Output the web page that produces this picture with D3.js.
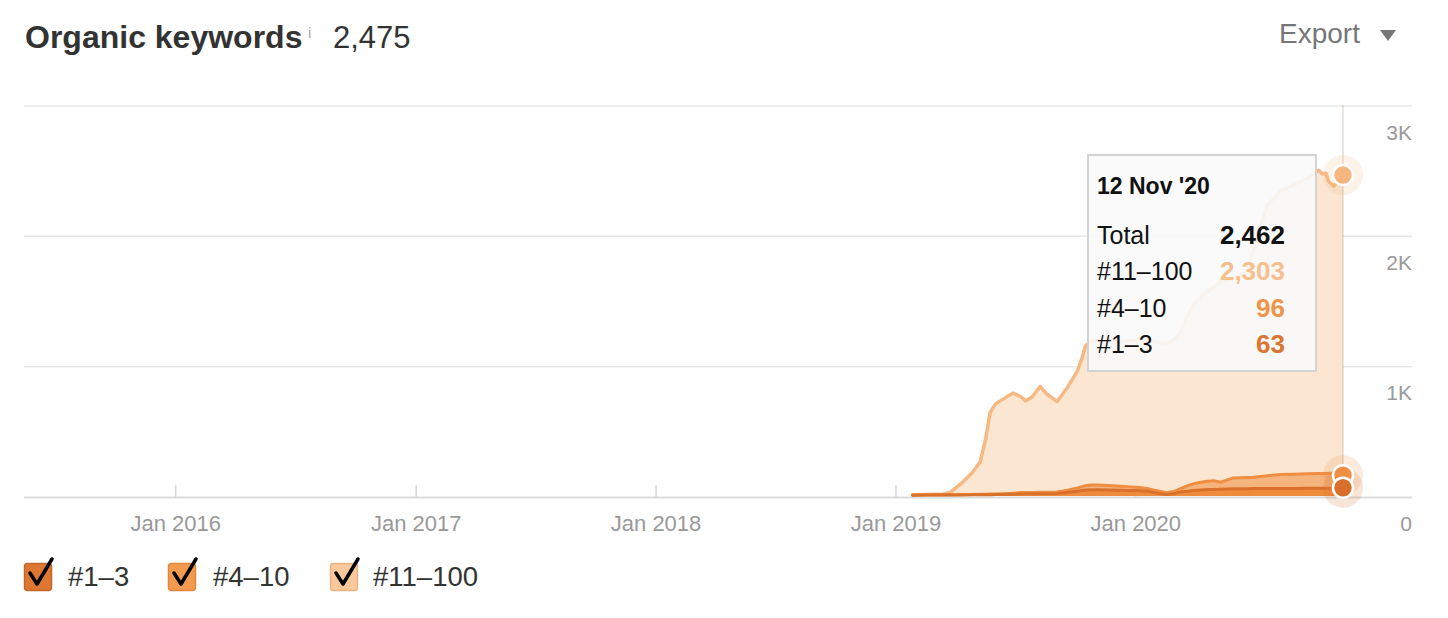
<!DOCTYPE html>
<html>
<head>
<meta charset="utf-8">
<script src="https://cdn.jsdelivr.net/npm/d3@7"></script>
<style>
  html, body { margin: 0; padding: 0; background: #fff; }
  svg { display: block; font-family: "Liberation Sans", Arial, Helvetica, sans-serif; }
</style>
</head>
<body>
<svg id="chart" width="1448" height="618"></svg>
<script>
// ---- Data ----
const dates = [
  "2019-01-27","2019-02-20","2019-03-15","2019-03-26","2019-04-12","2019-04-28","2019-05-10","2019-05-18",
  "2019-05-25","2019-06-02","2019-06-14","2019-06-29","2019-07-10","2019-07-18","2019-07-28","2019-08-09",
  "2019-08-20","2019-09-04","2019-09-20","2019-10-05","2019-10-12","2019-10-17","2019-10-25","2019-11-04",
  "2019-11-20","2019-12-10","2019-12-25","2020-01-04","2020-01-19","2020-01-28","2020-02-05","2020-02-18",
  "2020-03-01","2020-03-09","2020-03-20","2020-03-29","2020-04-10","2020-04-20","2020-04-29","2020-05-10",
  "2020-05-29","2020-06-20","2020-06-29","2020-07-10","2020-07-20","2020-08-09","2020-08-29","2020-09-19",
  "2020-10-06","2020-10-12","2020-10-17","2020-10-21","2020-10-29","2020-11-05","2020-11-12"
];
const r1_3 = [6,7,7,8,8,9,9,10,10,11,12,14,16,17,17,18,18,20,28,37,43,46,48,48,46,44,43,42,36,28,20,12,20,30,37,42,46,49,50,52,55,56,57,57,57,58,58,59,59,59,59,59,60,61,63];
const r4_10 = [2,2,3,2,3,3,4,4,5,5,6,8,10,10,10,10,10,10,17,25,29,32,37,36,34,31,27,25,22,19,18,14,16,25,41,51,60,65,68,54,84,86,87,93,98,107,109,111,113,114,114,115,114,111,96];
const r11_100 = [2,3,6,20,89,168,249,416,625,689,727,768,739,703,733,812,752,695,790,898,988,1072,1100,1106,1120,1110,1125,1127,1134,1141,1142,1143,1169,1191,1302,1369,1424,1455,1482,1540,1530,1581,1756,1927,2076,2173,2218,2268,2328,2297,2304,2241,2203,2248,2303];

const seriesNames = ["#1–3", "#4–10", "#11–100"];
const xTickDates = ["2016-01-01","2017-01-01","2018-01-01","2019-01-01","2020-01-01"];
const yTickValues = [0, 1000, 2000, 3000];
const yTickLabels = ["0", "1K", "2K", "3K"];
const headerTotal = "2,475";
const tooltipDate = "12 Nov '20";

// ---- Setup ----
const parse = d3.timeParse("%Y-%m-%d");
const rows = dates.map((d, i) => ({ date: parse(d), r1: r1_3[i], r2: r4_10[i], r3: r11_100[i] }));
const keys = ["r1", "r2", "r3"];
const stacked = d3.stack().keys(keys)(rows);

const svg = d3.select("#chart");
const plotLeft = 24, plotRight = 1412, plotTop = 106, plotBottom = 497;

const x = d3.scaleTime()
  .domain([parse("2015-05-16"), parse("2021-02-25")])
  .range([plotLeft, plotRight]);
const y = d3.scaleLinear().domain([0, 3000]).range([plotBottom, plotTop]);

const fillCol = { r1: "#ee8b3d", r2: "#f5b47d", r3: "#fbe6d2" };
const lineCol = { r1: "#d9712b", r2: "#ef8e41", r3: "#f6b984" };
const dotCol  = { r1: "#d8702b", r2: "#ef8f44", r3: "#f5b57e" };
const FONT = "Liberation Sans, Arial, Helvetica, sans-serif";

// ---- Header ----
svg.append("text").attr("x", 25).attr("y", 48).attr("font-size", 32).attr("font-weight", "bold")
  .attr("fill", "#333").text("Organic keywords");
svg.append("text").attr("x", 308).attr("y", 38).attr("font-size", 15).attr("fill", "#aaa").text("i");
svg.append("text").attr("x", 333).attr("y", 48).attr("font-size", 31).attr("fill", "#333").text(headerTotal);
svg.append("text").attr("x", 1279).attr("y", 43).attr("font-size", 28).attr("fill", "#777").text("Export");
svg.append("path").attr("d", "M1380,30 L1396,30 L1388,41 Z").attr("fill", "#777");

// ---- Grid ----
svg.append("g").selectAll("line").data(yTickValues.filter(v => v > 0)).join("line")
  .attr("x1", plotLeft).attr("x2", plotRight)
  .attr("y1", d => y(d)).attr("y2", d => y(d))
  .attr("stroke", "#e8e8e8").attr("stroke-width", 1.5);

// x axis
const xAxis = d3.axisBottom(x)
  .tickValues(xTickDates.map(parse))
  .tickFormat(d3.timeFormat("Jan %Y"))
  .tickSize(-12).tickPadding(18);
const gx = svg.append("g").attr("transform", `translate(0,${plotBottom})`).call(xAxis);
gx.select(".domain").remove();
gx.selectAll(".tick line").attr("stroke", "#d6d6d6").attr("stroke-width", 1.5);
gx.selectAll(".tick text").attr("fill", "#999").attr("font-size", 22).attr("font-family", FONT);

// baseline
svg.append("line").attr("x1", plotLeft).attr("x2", plotRight)
  .attr("y1", y(0) + 0.5).attr("y2", y(0) + 0.5)
  .attr("stroke", "#dcdcdc").attr("stroke-width", 2);

// right axis labels
const yAxis = d3.axisRight(y).tickValues(yTickValues)
  .tickFormat((d, i) => yTickLabels[i]).tickSize(0);
const gy = svg.append("g").attr("transform", `translate(${plotRight},0)`).call(yAxis);
gy.select(".domain").remove();
gy.selectAll(".tick text").attr("x", 0).attr("dy", 33).attr("text-anchor", "end")
  .attr("fill", "#999").attr("font-size", 21).attr("font-family", FONT);

// ---- Areas (draw top series first) ----
const area = d3.area().x(d => x(d.data.date)).y0(d => y(d[0]) - 1).y1(d => y(d[1]) - 1);
const line = d3.line().x(d => x(d.data.date)).y(d => y(d[1]) - 1);
const drawOrder = [2, 1, 0];
drawOrder.forEach(i => {
  const s = stacked[i];
  svg.append("path").datum(s).attr("d", area).attr("fill", fillCol[s.key]);
});
drawOrder.forEach(i => {
  const s = stacked[i];
  svg.append("path").datum(s).attr("d", line).attr("fill", "none")
    .attr("stroke", lineCol[s.key]).attr("stroke-width", i === 2 ? 3.5 : 3)
    .attr("stroke-linejoin", "round").attr("stroke-linecap", "round");
});

// ---- Hover line ----
const last = rows[rows.length - 1];
const hx = x(last.date);
svg.append("line").attr("x1", hx).attr("x2", hx).attr("y1", plotTop - 1).attr("y2", plotBottom)
  .attr("stroke", "rgba(150,120,100,0.25)").attr("stroke-width", 1.5);

// ---- Dots ----
const lastIdx = rows.length - 1;
const dotData = [2, 1, 0].map(i => ({ key: stacked[i].key, v: stacked[i][lastIdx][1] }));
svg.append("g").selectAll("circle").data(dotData).join("circle")
  .attr("cx", hx).attr("cy", d => y(d.v) - 1).attr("r", 20)
  .attr("fill", d => dotCol[d.key]).attr("opacity", 0.18);
svg.append("g").selectAll("circle").data(dotData).join("circle")
  .attr("cx", hx).attr("cy", d => y(d.v) - 1).attr("r", 10)
  .attr("fill", d => dotCol[d.key]).attr("stroke", "#fff").attr("stroke-width", 2.5);

// ---- Tooltip ----
const tip = svg.append("g");
tip.append("rect").attr("x", 1088).attr("y", 155).attr("width", 228).attr("height", 216)
  .attr("fill", "rgba(250,250,250,0.9)").attr("stroke", "#d3d3d3").attr("stroke-width", 2);
tip.append("text").attr("x", 1097).attr("y", 194).attr("font-size", 23).attr("font-weight", "bold")
  .attr("fill", "#111").text(tooltipDate);
const fmt = d3.format(",");
const totalVal = last.r1 + last.r2 + last.r3;
const tipRows = [
  { label: "Total", value: totalVal, color: "#111" },
  { label: seriesNames[2], value: last.r3, color: "#f7bf8e" },
  { label: seriesNames[1], value: last.r2, color: "#f0944a" },
  { label: seriesNames[0], value: last.r1, color: "#dc7431" }
];
const tipY = [244, 280, 317, 353];
tipRows.forEach((r, i) => {
  tip.append("text").attr("x", 1097).attr("y", tipY[i]).attr("font-size", 25).attr("fill", "#111").text(r.label);
  tip.append("text").attr("x", 1285).attr("y", tipY[i]).attr("font-size", 26).attr("font-weight", "bold")
    .attr("text-anchor", "end").attr("fill", r.color).text(fmt(r.value));
});

// ---- Legend ----
const legendItems = [
  { name: seriesNames[0], bx: 24, tx: 68, fill: "#dd7732", stroke: "#c4682a" },
  { name: seriesNames[1], bx: 168, tx: 213, fill: "#f29a4f", stroke: "#e0893f" },
  { name: seriesNames[2], bx: 330, tx: 373, fill: "#f9c99c", stroke: "#ebb383" }
];
const lg = svg.append("g");
legendItems.forEach(it => {
  lg.append("rect").attr("x", it.bx + 0.5).attr("y", 563.5).attr("width", 27).attr("height", 27).attr("rx", 3)
    .attr("fill", it.fill).attr("stroke", it.stroke).attr("stroke-width", 1.5);
  lg.append("path")
    .attr("d", `M${it.bx + 6},${573} L${it.bx + 13},${584} L${it.bx + 28},${559}`)
    .attr("fill", "none").attr("stroke", "#000").attr("stroke-width", 3.5)
    .attr("stroke-linecap", "round").attr("stroke-linejoin", "round");
  lg.append("text").attr("x", it.tx).attr("y", 586).attr("font-size", 27.5).attr("fill", "#333").text(it.name);
});
</script>
</body>
</html>
